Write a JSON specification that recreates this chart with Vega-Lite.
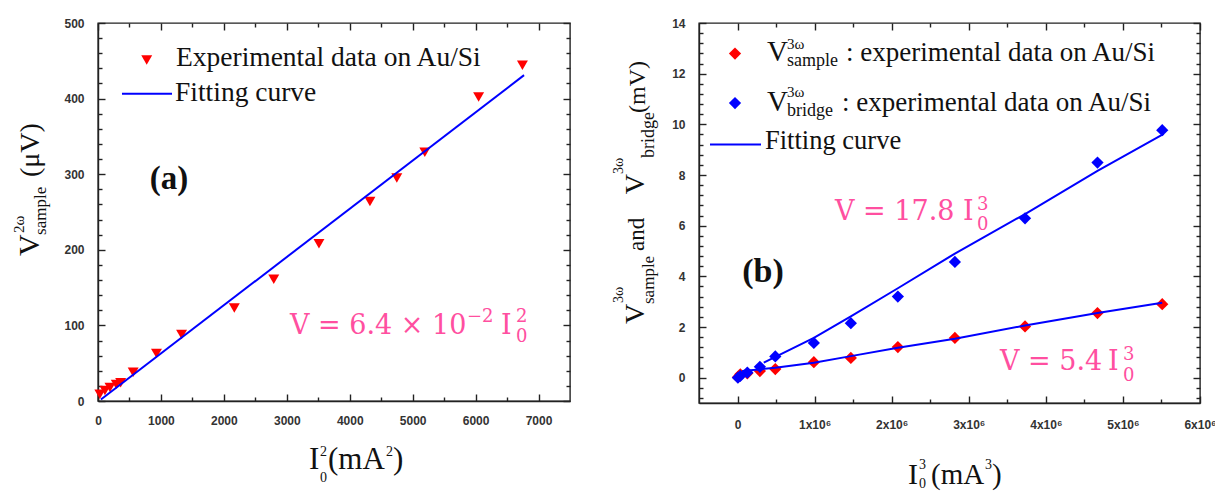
{
  "$schema": "https://vega.github.io/schema/vega-lite/v6.json",
  "padding": {"left": 11, "top": 16, "right": 0, "bottom": 0},
  "background": "white",
  "bounds": "flush",
  "spacing": 129,
  "datasets": {
    "a_pts": [
      {"I2": 29, "V": 9}, {"I2": 110, "V": 14}, {"I2": 190, "V": 18}, {"I2": 290, "V": 22}, {"I2": 360, "V": 24},
      {"I2": 559, "V": 38}, {"I2": 929, "V": 63}, {"I2": 1328, "V": 88}, {"I2": 2166, "V": 123}, {"I2": 2793, "V": 161},
      {"I2": 3511, "V": 208}, {"I2": 4321, "V": 264}, {"I2": 4748, "V": 295}, {"I2": 5193, "V": 329}, {"I2": 6048, "V": 402},
      {"I2": 6744, "V": 444}
    ],
    "a_fit": [{"I2": 46, "V": 2}, {"I2": 6770, "V": 431}],
    "b_pts": [
      {"I3": 5000, "V": 0.02, "series": "sample"}, {"I3": 36000, "V": 0.13, "series": "sample"}, {"I3": 127000, "V": 0.17, "series": "sample"},
      {"I3": 290000, "V": 0.26, "series": "sample"}, {"I3": 490000, "V": 0.34, "series": "sample"}, {"I3": 990000, "V": 0.61, "series": "sample"},
      {"I3": 1470000, "V": 0.78, "series": "sample"}, {"I3": 2080000, "V": 1.21, "series": "sample"}, {"I3": 2820000, "V": 1.57, "series": "sample"},
      {"I3": 3730000, "V": 2.02, "series": "sample"}, {"I3": 4670000, "V": 2.55, "series": "sample"}, {"I3": 5510000, "V": 2.9, "series": "sample"},
      {"I3": 5000, "V": 0.0, "series": "bridge"}, {"I3": 36000, "V": 0.07, "series": "bridge"}, {"I3": 127000, "V": 0.2, "series": "bridge"},
      {"I3": 290000, "V": 0.43, "series": "bridge"}, {"I3": 490000, "V": 0.84, "series": "bridge"}, {"I3": 990000, "V": 1.37, "series": "bridge"},
      {"I3": 1470000, "V": 2.15, "series": "bridge"}, {"I3": 2080000, "V": 3.2, "series": "bridge"}, {"I3": 2820000, "V": 4.57, "series": "bridge"},
      {"I3": 3730000, "V": 6.29, "series": "bridge"}, {"I3": 4670000, "V": 8.49, "series": "bridge"}, {"I3": 5510000, "V": 9.77, "series": "bridge"}
    ],
    "b_fit": [
      {"I3": 340000, "V": 0.59, "series": "bridge"}, {"I3": 990000, "V": 1.57, "series": "bridge"}, {"I3": 1470000, "V": 2.42, "series": "bridge"},
      {"I3": 2080000, "V": 3.53, "series": "bridge"}, {"I3": 2820000, "V": 4.9, "series": "bridge"}, {"I3": 3730000, "V": 6.46, "series": "bridge"},
      {"I3": 4670000, "V": 8.16, "series": "bridge"}, {"I3": 5530000, "V": 9.62, "series": "bridge"},
      {"I3": 60000, "V": 0.26, "series": "sample"}, {"I3": 490000, "V": 0.39, "series": "sample"}, {"I3": 990000, "V": 0.59, "series": "sample"},
      {"I3": 1470000, "V": 0.85, "series": "sample"}, {"I3": 2080000, "V": 1.18, "series": "sample"}, {"I3": 2820000, "V": 1.54, "series": "sample"},
      {"I3": 3730000, "V": 2.06, "series": "sample"}, {"I3": 4670000, "V": 2.55, "series": "sample"}, {"I3": 5510000, "V": 2.96, "series": "sample"}
    ]
  },
  "config": {
    "view": {"stroke": "#222", "strokeWidth": 1.4},
    "axis": {"grid": false, "domainColor": "#222", "domainWidth": 1.4, "gridColor": "#222", "gridWidth": 1.4, "gridOpacity": 1,
             "labelFont": "Liberation Sans", "labelFontWeight": "bold", "labelFontSize": 12, "labelColor": "#333", "labelFlush": false},
    "text": {"font": "Liberation Serif"}
  },
  "hconcat": [
    {
      "width": 472, "height": 378,
      "data": {"values": [{}]},
      "resolve": {"axis": {"x": "independent", "y": "independent"}},
      "layer": [
        {
          "data": {"name": "a_pts"},
          "mark": {"type": "point", "shape": "triangle-down", "filled": true, "color": "#ff0000", "size": 120, "opacity": 1},
          "encoding": {
            "x": {"field": "I2", "type": "quantitative", "scale": {"domain": [0, 7500], "nice": false},
                  "axis": {"orient": "bottom", "title": null, "values": [0,1000,2000,3000,4000,5000,6000,7000], "ticks": false,
                           "grid": true, "gridDash": [7, 2000],
                           "labelExpr": "'' + datum.value", "labelPadding": 14}},
            "y": {"field": "V", "type": "quantitative", "scale": {"domain": [0, 500], "nice": false},
                  "axis": {"orient": "left", "title": null, "values": [0,100,200,300,400,500], "ticks": false,
                           "grid": true, "gridDash": [7, 2000],
                           "labelExpr": "'' + datum.value", "labelPadding": 14}}
          }
        },
        {
          "data": {"name": "a_fit"},
          "mark": {"type": "line", "color": "#0000ff", "strokeWidth": 2},
          "encoding": {
            "x": {"field": "I2", "type": "quantitative",
                  "axis": {"orient": "top", "title": null, "labels": false, "ticks": false, "domain": false, "values": [0,1000,2000,3000,4000,5000,6000,7000], "grid": true, "gridDash": [7, 2000]}},
            "y": {"field": "V", "type": "quantitative",
                  "axis": {"orient": "right", "title": null, "labels": false, "ticks": false, "domain": false, "values": [0,100,200,300,400,500], "grid": true, "gridDash": [7, 2000]}}
          }
        },
        {"mark": {"type": "point", "shape": "triangle-down", "filled": true, "color": "#ff0000", "size": 120, "opacity": 1},
         "encoding": {"x": {"datum": 774, "axis": {"orient": "bottom", "title": null, "labels": false, "domain": false, "ticks": false, "grid": true, "gridDash": [4, 2000], "values": [500,1500,2500,3500,4500,5500,6500]}},
                      "y": {"datum": 451, "axis": {"orient": "left", "title": null, "labels": false, "domain": false, "ticks": false, "grid": true, "gridDash": [4, 2000], "values": [20,40,60,80,120,140,160,180,220,240,260,280,320,340,360,380,420,440,460,480]}}}},
        {"mark": {"type": "rule", "color": "#0000ff", "strokeWidth": 2},
         "encoding": {"x": {"datum": 381, "axis": {"orient": "top", "title": null, "labels": false, "domain": false, "ticks": false, "grid": true, "gridDash": [4, 2000], "values": [500,1500,2500,3500,4500,5500,6500]}},
                      "x2": {"datum": 1176},
                      "y": {"datum": 406.5, "axis": {"orient": "right", "title": null, "labels": false, "domain": false, "ticks": false, "grid": true, "gridDash": [4, 2000], "values": [20,40,60,80,120,140,160,180,220,240,260,280,320,340,360,380,420,440,460,480]}}}},
        {"mark": {"type": "text", "fontSize": 27.5, "align": "left", "baseline": "alphabetic", "color": "#111"},
         "encoding": {"x": {"datum": 1239, "axis": null}, "y": {"datum": 443, "axis": null}, "text": {"value": "Experimental data on Au/Si"}}},
        {"mark": {"type": "text", "fontSize": 27.5, "align": "left", "baseline": "alphabetic", "color": "#111"},
         "encoding": {"x": {"datum": 1224, "axis": null}, "y": {"datum": 397, "axis": null}, "text": {"value": "Fitting curve"}}},
        {"mark": {"type": "text", "fontSize": 33, "fontWeight": "bold", "align": "center", "baseline": "alphabetic", "color": "#111"},
         "encoding": {"x": {"datum": 1128, "axis": null}, "y": {"datum": 280.4, "axis": null}, "text": {"value": "(a)"}}},
        {"mark": {"type": "text", "font": "DejaVu Serif", "fontSize": 27, "align": "left", "baseline": "alphabetic", "color": "#ff4fa0"},
         "encoding": {"x": {"datum": 3051, "axis": null}, "y": {"datum": 88.6, "axis": null}, "text": {"value": "V = 6.4 × 10"}}},
        {"mark": {"type": "text", "font": "DejaVu Serif", "fontSize": 18, "align": "left", "baseline": "alphabetic", "color": "#ff4fa0"},
         "encoding": {"x": {"datum": 5863, "axis": null}, "y": {"datum": 104.5, "axis": null}, "text": {"value": "−2"}}},
        {"mark": {"type": "text", "font": "DejaVu Serif", "fontSize": 27, "align": "left", "baseline": "alphabetic", "color": "#ff4fa0"},
         "encoding": {"x": {"datum": 6404, "axis": null}, "y": {"datum": 88.6, "axis": null}, "text": {"value": "I"}}},
        {"mark": {"type": "text", "font": "DejaVu Serif", "fontSize": 18, "align": "left", "baseline": "alphabetic", "color": "#ff4fa0"},
         "encoding": {"x": {"datum": 6642, "axis": null}, "y": {"datum": 104.5, "axis": null}, "text": {"value": "2"}}},
        {"mark": {"type": "text", "font": "DejaVu Serif", "fontSize": 18, "align": "left", "baseline": "alphabetic", "color": "#ff4fa0"},
         "encoding": {"x": {"datum": 6642, "axis": null}, "y": {"datum": 78, "axis": null}, "text": {"value": "0"}}},
        {"mark": {"type": "text", "fontSize": 30, "angle": 270, "align": "left", "baseline": "alphabetic", "color": "#111"},
         "encoding": {"x": {"datum": -945, "axis": null}, "y": {"datum": 191.8, "axis": null}, "text": {"value": "V"}}},
        {"mark": {"type": "text", "fontSize": 15, "angle": 270, "align": "left", "baseline": "alphabetic", "color": "#111"},
         "encoding": {"x": {"datum": -1171, "axis": null}, "y": {"datum": 222.2, "axis": null}, "text": {"value": "2ω"}}},
        {"mark": {"type": "text", "fontSize": 17, "angle": 270, "align": "left", "baseline": "alphabetic", "color": "#111"},
         "encoding": {"x": {"datum": -826, "axis": null}, "y": {"datum": 219.6, "axis": null}, "text": {"value": "sample"}}},
        {"mark": {"type": "text", "fontSize": 28, "angle": 270, "align": "left", "baseline": "alphabetic", "color": "#111"},
         "encoding": {"x": {"datum": -945, "axis": null}, "y": {"datum": 296.3, "axis": null}, "text": {"value": "(μV)"}}},
        {"mark": {"type": "text", "fontSize": 31, "align": "left", "baseline": "alphabetic", "color": "#111"},
         "encoding": {"x": {"datum": 3353, "axis": null}, "y": {"datum": -90, "axis": null}, "text": {"value": "I"}}},
        {"mark": {"type": "text", "fontSize": 14, "align": "left", "baseline": "alphabetic", "color": "#111"},
         "encoding": {"x": {"datum": 3528, "axis": null}, "y": {"datum": -72.8, "axis": null}, "text": {"value": "2"}}},
        {"mark": {"type": "text", "fontSize": 14, "align": "left", "baseline": "alphabetic", "color": "#111"},
         "encoding": {"x": {"datum": 3528, "axis": null}, "y": {"datum": -107.1, "axis": null}, "text": {"value": "0"}}},
        {"mark": {"type": "text", "fontSize": 31, "align": "left", "baseline": "alphabetic", "color": "#111"},
         "encoding": {"x": {"datum": 3655, "axis": null}, "y": {"datum": -90, "axis": null}, "text": {"value": "(mA"}}},
        {"mark": {"type": "text", "fontSize": 14, "align": "left", "baseline": "alphabetic", "color": "#111"},
         "encoding": {"x": {"datum": 4576, "axis": null}, "y": {"datum": -72.8, "axis": null}, "text": {"value": "2"}}},
        {"mark": {"type": "text", "fontSize": 31, "align": "left", "baseline": "alphabetic", "color": "#111"},
         "encoding": {"x": {"datum": 4688, "axis": null}, "y": {"datum": -90, "axis": null}, "text": {"value": ")"}}}
      ]
    },
    {
      "width": 501, "height": 380,
      "data": {"values": [{}]},
      "resolve": {"axis": {"x": "independent", "y": "independent"}},
      "layer": [
        {
          "data": {"name": "b_pts"},
          "mark": {"type": "point", "shape": "diamond", "filled": true, "size": 150, "opacity": 1},
          "encoding": {
            "x": {"field": "I3", "type": "quantitative", "scale": {"domain": [-500000, 6000000], "nice": false},
                  "axis": {"orient": "bottom", "title": null, "values": [0,1000000,2000000,3000000,4000000,5000000,6000000], "ticks": false,
                           "grid": true, "gridDash": [7, 2000],
                           "labelExpr": "datum.value === 0 ? '0' : format(datum.value / 1000000, 'd') + 'x10⁶'",
                           "labelPadding": 16}},
            "y": {"field": "V", "type": "quantitative", "scale": {"domain": [-1, 14], "nice": false},
                  "axis": {"orient": "left", "title": null, "values": [0,2,4,6,8,10,12,14], "ticks": false,
                           "grid": true, "gridDash": [7, 2000],
                           "labelExpr": "'' + datum.value", "labelPadding": 14}},
            "color": {"field": "series", "type": "nominal", "scale": {"domain": ["sample", "bridge"], "range": ["#ff0000", "#0000ff"]}, "legend": null}
          }
        },
        {
          "data": {"name": "b_fit"},
          "mark": {"type": "line", "color": "#0000ff", "strokeWidth": 2},
          "encoding": {
            "x": {"field": "I3", "type": "quantitative",
                  "axis": {"orient": "top", "title": null, "labels": false, "ticks": false, "domain": false, "values": [0,1000000,2000000,3000000,4000000,5000000,6000000],
                           "grid": true, "gridDash": [7, 2000]}},
            "y": {"field": "V", "type": "quantitative",
                  "axis": {"orient": "right", "title": null, "labels": false, "ticks": false, "domain": false, "values": [0,2,4,6,8,10,12,14],
                           "grid": true, "gridDash": [7, 2000]}},
            "detail": {"field": "series", "type": "nominal"}
          }
        },
        {"mark": {"type": "point", "shape": "diamond", "filled": true, "color": "#ff0000", "size": 150, "opacity": 1},
         "encoding": {"x": {"datum": -33000, "axis": {"orient": "bottom", "title": null, "labels": false, "domain": false, "ticks": false, "grid": true, "gridDash": [4, 2000], "values": [500000,1500000,2500000,3500000,4500000,5500000]}},
                      "y": {"datum": 12.795, "axis": {"orient": "left", "title": null, "labels": false, "domain": false, "ticks": false, "grid": true, "gridDash": [4, 2000], "values": [-0.8,-0.4,0.4,0.8,1.2,1.6,2.4,2.8,3.2,3.6,4.4,4.8,5.2,5.6,6.4,6.8,7.2,7.6,8.4,8.8,9.2,9.6,10.4,10.8,11.2,11.6,12.4,12.8,13.2,13.6]}}}},
        {"mark": {"type": "point", "shape": "diamond", "filled": true, "color": "#0000ff", "size": 150, "opacity": 1},
         "encoding": {"x": {"datum": -33000, "axis": {"orient": "top", "title": null, "labels": false, "domain": false, "ticks": false, "grid": true, "gridDash": [4, 2000], "values": [500000,1500000,2500000,3500000,4500000,5500000]}},
                      "y": {"datum": 10.84, "axis": {"orient": "right", "title": null, "labels": false, "domain": false, "ticks": false, "grid": true, "gridDash": [4, 2000], "values": [-0.8,-0.4,0.4,0.8,1.2,1.6,2.4,2.8,3.2,3.6,4.4,4.8,5.2,5.6,6.4,6.8,7.2,7.6,8.4,8.8,9.2,9.6,10.4,10.8,11.2,11.6,12.4,12.8,13.2,13.6]}}}},
        {"mark": {"type": "text", "fontSize": 29, "align": "left", "baseline": "alphabetic", "color": "#111"},
         "encoding": {"x": {"datum": 382232, "axis": null}, "y": {"datum": 12.5, "axis": null}, "text": {"value": "V"}}},
        {"mark": {"type": "text", "fontSize": 15, "align": "left", "baseline": "alphabetic", "color": "#111"},
         "encoding": {"x": {"datum": 641712, "axis": null}, "y": {"datum": 12.97, "axis": null}, "text": {"value": "3ω"}}},
        {"mark": {"type": "text", "fontSize": 18, "align": "left", "baseline": "alphabetic", "color": "#111"},
         "encoding": {"x": {"datum": 641712, "axis": null}, "y": {"datum": 12.3, "axis": null}, "text": {"value": "sample"}}},
        {"mark": {"type": "text", "fontSize": 27, "align": "left", "baseline": "alphabetic", "color": "#111"},
         "encoding": {"x": {"datum": 1407178, "axis": null}, "y": {"datum": 12.5, "axis": null}, "text": {"value": ": experimental data on Au/Si"}}},
        {"mark": {"type": "text", "fontSize": 29, "align": "left", "baseline": "alphabetic", "color": "#111"},
         "encoding": {"x": {"datum": 382232, "axis": null}, "y": {"datum": 10.525, "axis": null}, "text": {"value": "V"}}},
        {"mark": {"type": "text", "fontSize": 15, "align": "left", "baseline": "alphabetic", "color": "#111"},
         "encoding": {"x": {"datum": 641712, "axis": null}, "y": {"datum": 11.08, "axis": null}, "text": {"value": "3ω"}}},
        {"mark": {"type": "text", "fontSize": 18, "align": "left", "baseline": "alphabetic", "color": "#111"},
         "encoding": {"x": {"datum": 641712, "axis": null}, "y": {"datum": 10.33, "axis": null}, "text": {"value": "bridge"}}},
        {"mark": {"type": "text", "fontSize": 27, "align": "left", "baseline": "alphabetic", "color": "#111"},
         "encoding": {"x": {"datum": 1355282, "axis": null}, "y": {"datum": 10.525, "axis": null}, "text": {"value": ": experimental data on Au/Si"}}},
        {"mark": {"type": "rule", "color": "#0000ff", "strokeWidth": 2},
         "encoding": {"x": {"datum": -357286, "axis": null}, "x2": {"datum": 304388}, "y": {"datum": 9.203, "axis": null}}},
        {"mark": {"type": "text", "fontSize": 26.5, "align": "left", "baseline": "alphabetic", "color": "#111"},
         "encoding": {"x": {"datum": 356284, "axis": null}, "y": {"datum": 9.025, "axis": null}, "text": {"value": "Fitting curve"}}},
        {"mark": {"type": "text", "fontSize": 34, "fontWeight": "bold", "align": "center", "baseline": "alphabetic", "color": "#111"},
         "encoding": {"x": {"datum": 330336, "axis": null}, "y": {"datum": 3.776, "axis": null}, "text": {"value": "(b)"}}},
        {"mark": {"type": "text", "font": "DejaVu Serif", "fontSize": 27, "align": "left", "baseline": "alphabetic", "color": "#ff4fa0"},
         "encoding": {"x": {"datum": 1264464, "axis": null}, "y": {"datum": 6.223, "axis": null}, "text": {"value": "V = 17.8"}}},
        {"mark": {"type": "text", "font": "DejaVu Serif", "fontSize": 27, "align": "left", "baseline": "alphabetic", "color": "#ff4fa0"},
         "encoding": {"x": {"datum": 2925136, "axis": null}, "y": {"datum": 6.223, "axis": null}, "text": {"value": "I"}}},
        {"mark": {"type": "text", "font": "DejaVu Serif", "fontSize": 18, "align": "left", "baseline": "alphabetic", "color": "#ff4fa0"},
         "encoding": {"x": {"datum": 3106772, "axis": null}, "y": {"datum": 6.618, "axis": null}, "text": {"value": "3"}}},
        {"mark": {"type": "text", "font": "DejaVu Serif", "fontSize": 18, "align": "left", "baseline": "alphabetic", "color": "#ff4fa0"},
         "encoding": {"x": {"datum": 3106772, "axis": null}, "y": {"datum": 5.828, "axis": null}, "text": {"value": "0"}}},
        {"mark": {"type": "text", "font": "DejaVu Serif", "fontSize": 27, "align": "left", "baseline": "alphabetic", "color": "#ff4fa0"},
         "encoding": {"x": {"datum": 3405174, "axis": null}, "y": {"datum": 0.287, "axis": null}, "text": {"value": "V = 5.4"}}},
        {"mark": {"type": "text", "font": "DejaVu Serif", "fontSize": 27, "align": "left", "baseline": "alphabetic", "color": "#ff4fa0"},
         "encoding": {"x": {"datum": 4806366, "axis": null}, "y": {"datum": 0.287, "axis": null}, "text": {"value": "I"}}},
        {"mark": {"type": "text", "font": "DejaVu Serif", "fontSize": 18, "align": "left", "baseline": "alphabetic", "color": "#ff4fa0"},
         "encoding": {"x": {"datum": 5000976, "axis": null}, "y": {"datum": 0.697, "axis": null}, "text": {"value": "3"}}},
        {"mark": {"type": "text", "font": "DejaVu Serif", "fontSize": 18, "align": "left", "baseline": "alphabetic", "color": "#ff4fa0"},
         "encoding": {"x": {"datum": 5000976, "axis": null}, "y": {"datum": -0.132, "axis": null}, "text": {"value": "0"}}},
        {"mark": {"type": "text", "fontSize": 28, "angle": 270, "align": "left", "baseline": "alphabetic", "color": "#111"},
         "encoding": {"x": {"datum": -1213570, "axis": null}, "y": {"datum": 2.118, "axis": null}, "text": {"value": "V"}}},
        {"mark": {"type": "text", "fontSize": 14, "angle": 270, "align": "left", "baseline": "alphabetic", "color": "#111"},
         "encoding": {"x": {"datum": -1486024, "axis": null}, "y": {"datum": 2.947, "axis": null}, "text": {"value": "3ω"}}},
        {"mark": {"type": "text", "fontSize": 17, "angle": 270, "align": "left", "baseline": "alphabetic", "color": "#111"},
         "encoding": {"x": {"datum": -1083830, "axis": null}, "y": {"datum": 2.908, "axis": null}, "text": {"value": "sample"}}},
        {"mark": {"type": "text", "fontSize": 23, "angle": 270, "align": "left", "baseline": "alphabetic", "color": "#111"},
         "encoding": {"x": {"datum": -1213570, "axis": null}, "y": {"datum": 5.0, "axis": null}, "text": {"value": "and"}}},
        {"mark": {"type": "text", "fontSize": 28, "angle": 270, "align": "left", "baseline": "alphabetic", "color": "#111"},
         "encoding": {"x": {"datum": -1213570, "axis": null}, "y": {"datum": 7.237, "axis": null}, "text": {"value": "V"}}},
        {"mark": {"type": "text", "fontSize": 14, "angle": 270, "align": "left", "baseline": "alphabetic", "color": "#111"},
         "encoding": {"x": {"datum": -1486024, "axis": null}, "y": {"datum": 8.039, "axis": null}, "text": {"value": "3ω"}}},
        {"mark": {"type": "text", "fontSize": 18, "angle": 270, "align": "left", "baseline": "alphabetic", "color": "#111"},
         "encoding": {"x": {"datum": -1083830, "axis": null}, "y": {"datum": 8.67, "axis": null}, "text": {"value": "bridge"}}},
        {"mark": {"type": "text", "fontSize": 24, "angle": 270, "align": "left", "baseline": "alphabetic", "color": "#111"},
         "encoding": {"x": {"datum": -1200596, "axis": null}, "y": {"datum": 10.45, "axis": null}, "text": {"value": "(mV)"}}},
        {"mark": {"type": "text", "fontSize": 30, "align": "left", "baseline": "alphabetic", "color": "#111"},
         "encoding": {"x": {"datum": 2211566, "axis": null}, "y": {"datum": -4.197, "axis": null}, "text": {"value": "I"}}},
        {"mark": {"type": "text", "fontSize": 14, "align": "left", "baseline": "alphabetic", "color": "#111"},
         "encoding": {"x": {"datum": 2354280, "axis": null}, "y": {"datum": -3.605, "axis": null}, "text": {"value": "3"}}},
        {"mark": {"type": "text", "fontSize": 14, "align": "left", "baseline": "alphabetic", "color": "#111"},
         "encoding": {"x": {"datum": 2354280, "axis": null}, "y": {"datum": -4.355, "axis": null}, "text": {"value": "0"}}},
        {"mark": {"type": "text", "fontSize": 29, "align": "left", "baseline": "alphabetic", "color": "#111"},
         "encoding": {"x": {"datum": 2509968, "axis": null}, "y": {"datum": -4.197, "axis": null}, "text": {"value": "(mA"}}},
        {"mark": {"type": "text", "fontSize": 14, "align": "left", "baseline": "alphabetic", "color": "#111"},
         "encoding": {"x": {"datum": 3210564, "axis": null}, "y": {"datum": -3.605, "axis": null}, "text": {"value": "3"}}},
        {"mark": {"type": "text", "fontSize": 29, "align": "left", "baseline": "alphabetic", "color": "#111"},
         "encoding": {"x": {"datum": 3301382, "axis": null}, "y": {"datum": -4.197, "axis": null}, "text": {"value": ")"}}}
      ]
    }
  ]
}
